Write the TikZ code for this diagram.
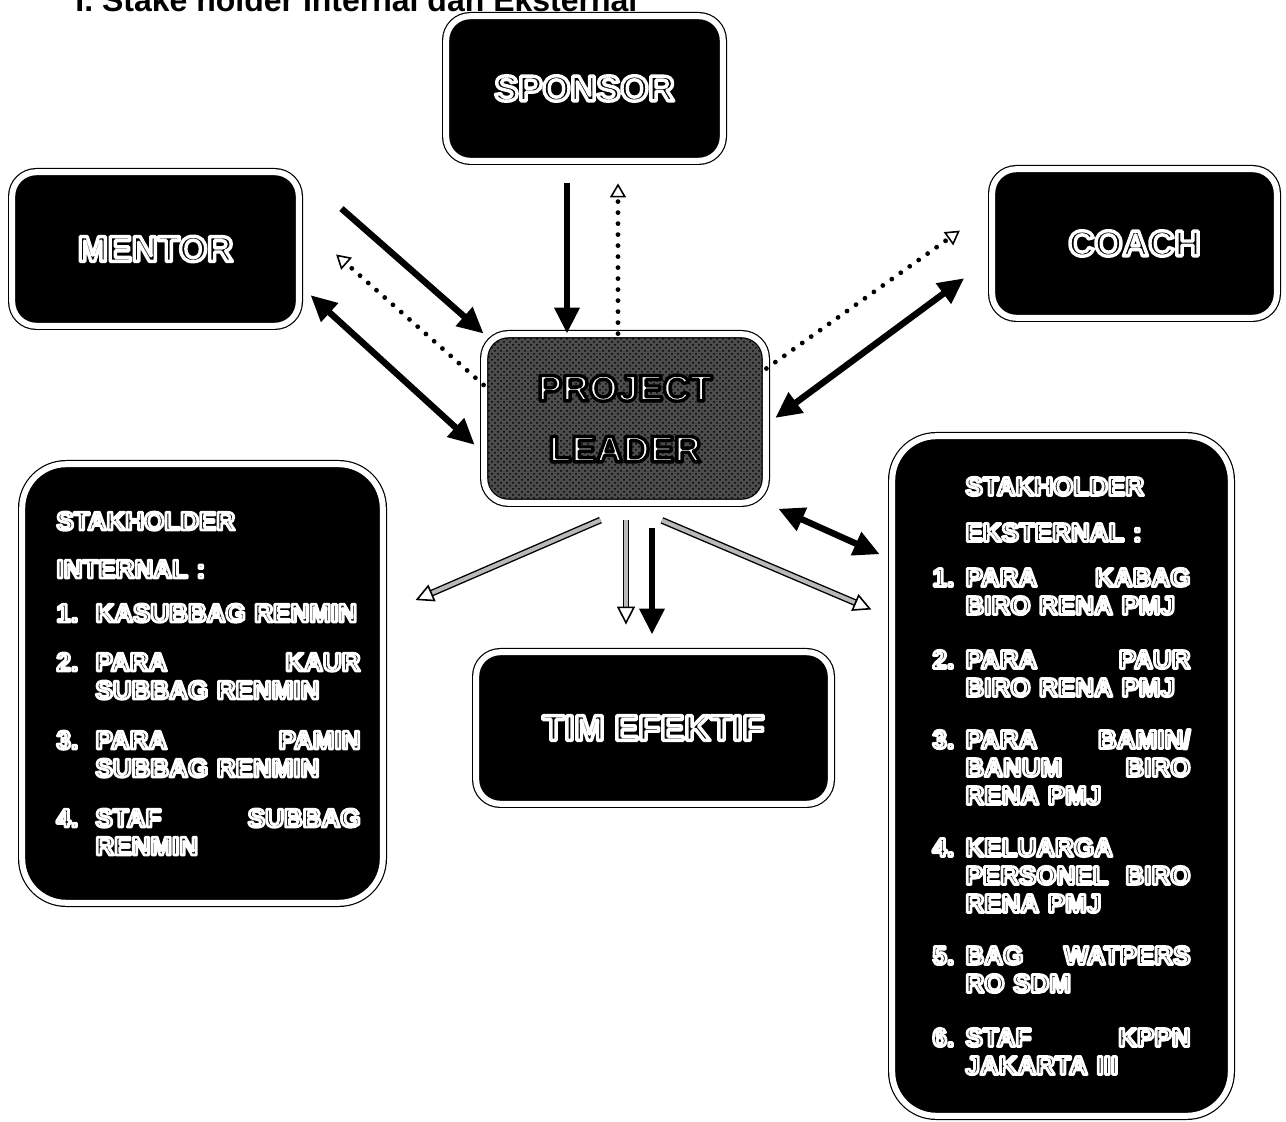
\documentclass[tikz,border=0pt]{standalone}
\usepackage{fontspec}
\setmainfont{Liberation Sans}
\usetikzlibrary{arrows.meta,calc,patterns}
% huruf bergaris tepi (text render mode)
\newcommand{\wout}[1]{\special{pdf:literal direct 1 Tr 1 j 1 1 1 RG 1.7 w}#1}
\newcommand{\lout}[1]{\special{pdf:literal direct 1 Tr 1 j 1 1 1 RG 1.4 w}#1}
\newcommand{\bout}[1]{\special{pdf:literal direct 2 Tr 1 j 0 0 0 RG 1.7 w}#1}
\newcommand{\nr}[2]{\makebox[#1][l]{\lout{#2}}}

\tikzset{
  board/.style={draw=black, line width=0.6pt, double=white, double distance=3pt,
    fill=black, rounded corners=12pt, text=black,
    font=\bfseries\fontsize{18}{20}\selectfont},
  leader/.style={draw=black, line width=0.6pt, double=white, double distance=3pt,
    preaction={fill=black!70}, preaction={pattern=crosshatch dots, pattern color=black},
    rounded corners=12pt, text=white, align=center,
    font=\bfseries\fontsize{18.5}{30.5}\selectfont},
  liste/.style={board, rounded corners=22pt, align=left,
    font=\bfseries\fontsize{13}{14}\selectfont},
  fullarr/.style={line width=3.2pt, -{Triangle[length=13pt,width=12pt]}},
  twoway/.style={line width=3.2pt, {Triangle[length=13pt,width=12pt]}-{Triangle[length=13pt,width=12pt]}},
  dotarr/.style={line width=2.4pt, line cap=round, dash pattern=on 0pt off 5.5pt,
    -{Triangle[length=7pt,width=8pt,fill=white,line width=0.8pt]}},
  hollowarr/.style={draw=black, line width=0.7pt, double=gray!55, double distance=2pt,
    -{Triangle[length=9pt,width=9pt,fill=white,line width=0.8pt]}}
}

\begin{document}
\begin{tikzpicture}[x=0.5pt, y=-0.5pt]
  \useasboundingbox (0,0) rectangle (1286,1122);

  \node[anchor=base west, inner sep=0pt, font=\bfseries\fontsize{16}{18}\selectfont] (judul) at (75,12)
    {I. Stake holder Internal dan Eksternal};

  % kotak utama
  \node[board, minimum width=138.3pt, minimum height=72.3pt] (spon) at (584.5,88.5) {\wout{SPONSOR}};
  \node[board, minimum width=143.3pt, minimum height=76.8pt] (ment) at (155.5,249) {\wout{MENTOR}};
  \node[board, minimum width=142.3pt, minimum height=74.3pt] (coach) at (1134.5,243.5) {\wout{COACH}};
  \node[leader, minimum width=140.8pt, minimum height=84.3pt] (pl) at (625,418.5) {\bout{PROJECT}\\\bout{LEADER}};
  \node[board, minimum width=177.3pt, minimum height=75.8pt] (tim) at (653.5,728) {\wout{TIM EFEKTIF}};

  % stakeholder internal
  \node[liste, text width=158pt, minimum width=180.3pt, minimum height=219.3pt] (intern) at (202.5,683.5) {%
    \leftskip=6pt
    \lout{STAKHOLDER}\\[10pt]
    \lout{INTERNAL :}\\[8pt]
    \nr{19.5pt}{1.}\lout{KASUBBAG RENMIN}\\[10.5pt]
    \nr{19.5pt}{2.}\lout{\makebox[132.5pt]{PARA\hfill KAUR}}\\
    \hspace*{19.5pt}\lout{SUBBAG RENMIN}\\[11pt]
    \nr{19.5pt}{3.}\lout{\makebox[132.5pt]{PARA\hfill PAMIN}}\\
    \hspace*{19.5pt}\lout{SUBBAG RENMIN}\\[11pt]
    \nr{19.5pt}{4.}\lout{\makebox[132.5pt]{STAF\hfill SUBBAG}}\\
    \hspace*{19.5pt}\lout{RENMIN}\par};

  % stakeholder eksternal
  \node[liste, text width=129pt, minimum width=169.3pt, minimum height=339.8pt] (ext) at (1061.5,776) {%
    \hspace*{16.5pt}\lout{STAKHOLDER}\\[9pt]
    \hspace*{16.5pt}\lout{EKSTERNAL :}\\[8.5pt]
    \nr{16.5pt}{1.}\lout{\makebox[112.5pt]{PARA\hfill KABAG}}\\
    \hspace*{16.5pt}\lout{BIRO RENA PMJ}\\[13pt]
    \nr{16.5pt}{2.}\lout{\makebox[112.5pt]{PARA\hfill PAUR}}\\
    \hspace*{16.5pt}\lout{BIRO RENA PMJ}\\[12pt]
    \nr{16.5pt}{3.}\lout{\makebox[112.5pt]{PARA\hfill BAMIN/}}\\
    \hspace*{16.5pt}\lout{\makebox[112.5pt]{BANUM\hfill BIRO}}\\
    \hspace*{16.5pt}\lout{RENA PMJ}\\[12pt]
    \nr{16.5pt}{4.}\lout{KELUARGA}\\
    \hspace*{16.5pt}\lout{\makebox[112.5pt]{PERSONEL\hfill BIRO}}\\
    \hspace*{16.5pt}\lout{RENA PMJ}\\[12pt]
    \nr{16.5pt}{5.}\lout{\makebox[112.5pt]{BAG\hfill WATPERS}}\\
    \hspace*{16.5pt}\lout{RO SDM}\\[13pt]
    \nr{16.5pt}{6.}\lout{\makebox[112.5pt]{STAF\hfill KPPN}}\\
    \hspace*{16.5pt}\lout{JAKARTA III}\par};

  % panah
  \draw[fullarr, shorten <=11pt] ($(spon.south)+(-17.5,0)$) -- ($(spon.south |- pl.north)+(-17.5,0)$);
  \draw[dotarr, shorten >=11pt] ($(spon.south |- pl.north)+(33.5,0)$) -- ($(spon.south)+(33.5,0)$);
  \draw[fullarr, shorten <=28pt] (ment.north east) -- (pl.north west);
  \draw[dotarr, shorten >=24.5pt] ($(pl.west)+(0,-33.5)$) -- ($(ment.east)+(0,-27)$);
  \draw[twoway, shorten <=7.5pt, shorten >=6pt] ($(ment.east)+(0,36)$) -- ($(pl.west)+(0,34.5)$);
  \draw[dotarr, shorten >=19.5pt] ($(pl.east)+(0,-50)$) -- ($(coach.west)+(0,-35.5)$);
  \draw[twoway, shorten <=17pt, shorten >=5.5pt] ($(coach.west)+(0,14.5)$) -- ($(pl.east)+(0,6)$);
  \draw[twoway, shorten <=6.5pt, shorten >=6.5pt] (pl.south east) -- ($(ext.north west)+(0,124)$);
  \draw[hollowarr, shorten <=21pt, shorten >=17.5pt] ($(pl.south)+(14,0)$) -- ($(intern.east)+(0,-69.5)$);
  \draw[hollowarr, shorten <=8.5pt, shorten >=13.5pt] ($(pl.south)+(1,0)$) -- ($(pl.south |- tim.north)+(1,0)$);
  \draw[fullarr, shorten <=12.5pt, shorten >=8.5pt] ($(pl.south)+(27,0)$) -- ($(pl.south |- tim.north)+(27,0)$);
  \draw[hollowarr, shorten <=21.7pt, shorten >=11pt] ($(pl.south)+(-3,0)$) -- ($(ext.north west)+(0,182.5)$);
\end{tikzpicture}
\end{document}
